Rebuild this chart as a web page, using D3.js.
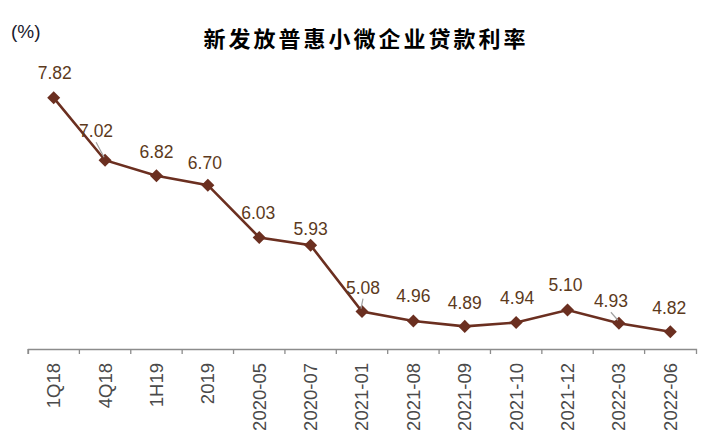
<!DOCTYPE html>
<html>
<head>
<meta charset="utf-8">
<script src="https://cdn.jsdelivr.net/npm/d3@7"></script>
<style>
  html, body { margin: 0; padding: 0; background: #fff; }
  svg { display: block; }
</style>
</head>
<body>
<svg id="chart" width="714" height="442"></svg>
<script>
const categories = ["1Q18","4Q18","1H19","2019","2020-05","2020-07","2021-01","2021-08","2021-09","2021-10","2021-12","2022-03","2022-06"];
const rates = [7.82, 7.02, 6.82, 6.70, 6.03, 5.93, 5.08, 4.96, 4.89, 4.94, 5.10, 4.93, 4.82];
const titleText = "新发放普惠小微企业贷款利率";
const unitText = "(%)";
// label nudges (dx, dy) and leader-line flags: layout only
const labelNudge = [[1,-25],[-9,-29],[0,-24],[-3,-22],[-1,-25],[0,-16],[1,-24],[0,-25],[0,-24],[1,-25],[-2,-25],[-8,-22],[-1,-24]];
const leader = [false,true,false,false,false,false,true,false,false,false,false,true,false];

const svg = d3.select("#chart");
const lineColor = "#6b2f20";

const x = d3.scaleBand().domain(categories).range([28, 696]);
const y = d3.scaleLinear().domain([4.6, 8.0]).range([349, 83.8]);
const cx = c => x(c) + x.bandwidth() / 2;

// title
svg.append("text")
  .attr("x", 366).attr("y", 47)
  .attr("text-anchor", "middle")
  .style("font-family", "'Noto Sans CJK SC', sans-serif")
  .style("font-weight", "bold")
  .style("font-size", "22px")
  .style("letter-spacing", "3px")
  .attr("fill", "#000")
  .text(titleText);

svg.append("text")
  .attr("x", 11).attr("y", 38)
  .style("font-family", "'Liberation Sans', Arial, sans-serif")
  .style("font-size", "19px")
  .attr("fill", "#1a1a2e")
  .text(unitText);

// x axis
const axis = svg.append("g")
  .attr("transform", "translate(0,349)")
  .call(d3.axisBottom(x).tickSizeInner(0).tickSizeOuter(5).tickPadding(0));
axis.select(".domain").attr("stroke", "#8c8c8c").attr("stroke-width", 1.3);
axis.selectAll(".tick text")
  .attr("transform", "rotate(-90)")
  .attr("text-anchor", "end")
  .attr("x", -14).attr("y", 0).attr("dy", "0.35em")
  .style("font-family", "'Liberation Sans', Arial, sans-serif")
  .style("font-size", "18.5px")
  .attr("fill", "#4a4a4a");
axis.selectAll(".tick line").remove();
axis.selectAll("line.bound")
  .data(categories)
  .enter().append("line")
  .attr("class", "bound")
  .attr("x1", d => x(d)).attr("x2", d => x(d))
  .attr("y1", 0).attr("y2", 5)
  .attr("stroke", "#8c8c8c").attr("stroke-width", 1.3);

// line
const line = d3.line().x((d, i) => cx(categories[i])).y(d => y(d));
svg.append("path")
  .datum(rates)
  .attr("d", line)
  .attr("fill", "none")
  .attr("stroke", lineColor)
  .attr("stroke-width", 2.6);

// markers
svg.selectAll("path.mk")
  .data(rates)
  .enter().append("path")
  .attr("class", "mk")
  .attr("d", d3.symbol().type(d3.symbolSquare).size(85))
  .attr("transform", (d, i) => `translate(${cx(categories[i])},${y(d)}) rotate(45)`)
  .attr("fill", lineColor);

// leader lines
rates.forEach((d, i) => {
  if (!leader[i]) return;
  const px = cx(categories[i]), py = y(d);
  const lx = px + labelNudge[i][0], ly = py + labelNudge[i][1] + 8;
  svg.append("line")
    .attr("x1", lx).attr("y1", ly + 3)
    .attr("x2", px - 1).attr("y2", py - 3)
    .attr("stroke", "#a0a0a0").attr("stroke-width", 1.2);
});

// value labels
svg.selectAll("text.val")
  .data(rates)
  .enter().append("text")
  .attr("class", "val")
  .attr("x", (d, i) => cx(categories[i]) + labelNudge[i][0])
  .attr("y", (d, i) => y(d) + labelNudge[i][1])
  .attr("dy", "0.35em")
  .attr("text-anchor", "middle")
  .style("font-family", "'Liberation Sans', Arial, sans-serif")
  .style("font-size", "17.5px")
  .attr("fill", "#5c3a1c")
  .text(d => d.toFixed(2));
</script>
</body>
</html>
